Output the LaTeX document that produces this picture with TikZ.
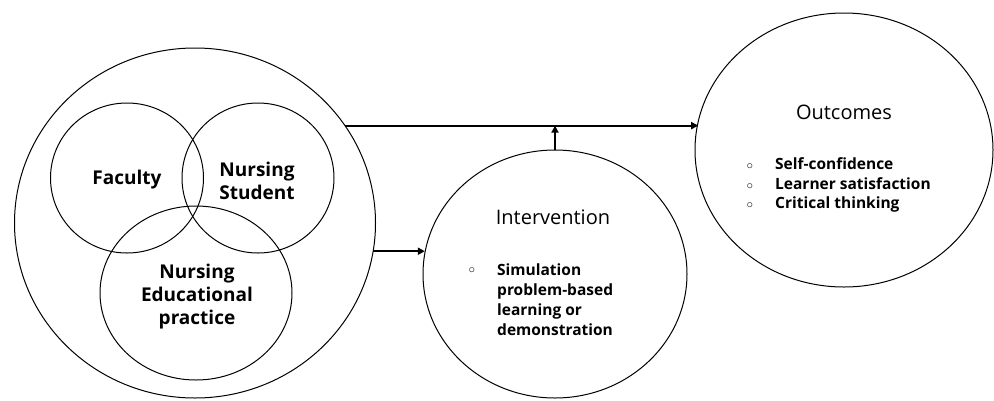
\documentclass[tikz,border=0pt]{standalone}
\usepackage{fontspec}
\setmainfont{Open Sans}
\newfontfamily\dejavu{DejaVu Sans}
\usetikzlibrary{shapes.geometric,arrows.meta}
\tikzset{
  ring/.style={draw,ellipse,line width=1pt,inner sep=0pt,outer sep=0pt},
  lbl/.style={font=\fontsize{19}{23}\selectfont\bfseries,align=center,inner sep=0pt},
  ttl/.style={font=\fontsize{20}{24}\selectfont,inner sep=0pt,anchor=mid},
  itm/.style={font=\fontsize{15.5}{19}\selectfont\bfseries,inner sep=0pt,anchor=mid west},
  bul/.style={font=\fontsize{17}{19}\selectfont\dejavu,inner sep=0pt,anchor=center},
  conn/.style={line width=2pt,-{Triangle[length=7pt,width=7pt]}}
}
\begin{document}
\begin{tikzpicture}[x=1pt,y=-1pt]
\useasboundingbox (0,0) rectangle (994,400);
% circles
\node[ring,minimum width=361,minimum height=350] (big) at (195,223) {};
\node[ring,minimum width=153,minimum height=150] (fac) at (127,178) {};
\node[ring,minimum width=152,minimum height=150] (stu) at (258,178) {};
\node[ring,minimum width=192,minimum height=174] (edu) at (196,293) {};
\node[ring,minimum width=264,minimum height=248] (intv) at (555,274) {};
\node[ring,minimum width=298,minimum height=274] (outc) at (844,150) {};
% labels
\node[lbl] (tfac) at (127,180) {Faculty};
\node[lbl] (tstu) at (257,181) {Nursing\\Student};
\node[lbl] (tedu) at (197,297) {Nursing\\Educational\\practice};
\node[ttl] (tintv) at (553,222) {Intervention};
\node[ttl] (toutc) at (844,117) {Outcomes};
% intervention items
\node[bul] (b1) at (472,272) {◦};
\node[itm] (i1) at (497,273) {Simulation};
\node[itm] (i2) at (497,293) {problem-based};
\node[itm] (i3) at (497,313) {learning or};
\node[itm] (i4) at (497,333) {demonstration};
% outcome items
\node[bul] (b2) at (750,168) {◦};
\node[bul] (b3) at (750,188) {◦};
\node[bul] (b4) at (750,207) {◦};
\node[itm] (o1) at (775,167) {Self-confidence};
\node[itm] (o2) at (775,187) {Learner satisfaction};
\node[itm] (o3) at (775,206) {Critical thinking};
% connectors
\draw[conn] (big.33.8) -- (big.33.8 -| outc.169.9);
\draw[conn] (intv.north) -- (intv.north |- big.33.8);
\draw[conn] (big.-9.9) -- (big.-9.9 -| intv.171.3);
\end{tikzpicture}
\end{document}
